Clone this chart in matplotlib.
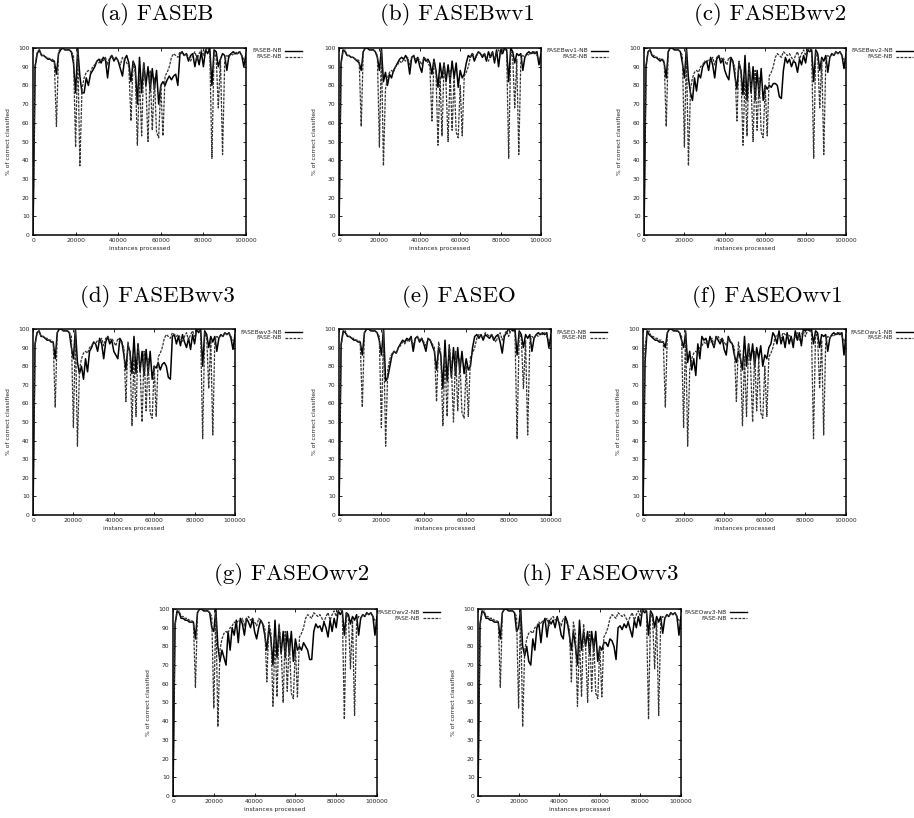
import matplotlib
matplotlib.use("Agg")
import matplotlib.pyplot as plt
from matplotlib.lines import Line2D

# positions sampled every 1000 instances
x = list(range(0, 100001, 1000))

# baseline FASE-NB (dashed, same in every panel)
fase_nb = [0, 91, 98, 99, 96, 96, 95, 95, 94, 94,
           93, 58, 98, 100, 100, 99, 99, 99, 98, 96,
           47, 99, 37, 78, 84, 87, 88, 87, 90, 91,
           93, 92, 94, 93, 95, 91, 95, 96, 94, 95,
           93, 91, 95, 94, 92, 90, 61, 93, 87, 48,
           85, 53, 92, 80, 50, 88, 56, 84, 55, 52,
           80, 53, 85, 87, 90, 95, 97, 96, 95, 98,
           97, 96, 97, 95, 93, 96, 98, 94, 97, 99,
           96, 99, 100, 98, 41, 98, 95, 68, 94, 43,
           93, 96, 95, 97, 96, 98, 97, 98, 96, 94,
           92]

faseb = [0, 90, 97, 99, 96, 96, 95, 94, 94, 93,
         93, 86, 97, 99, 100, 99, 99, 99, 98, 92,
         76, 100, 85, 76, 76, 84, 80, 86, 88, 90,
         93, 94, 92, 95, 94, 84, 94, 96, 93, 95,
         93, 89, 85, 94, 96, 92, 82, 93, 90, 70,
         95, 76, 92, 80, 90, 77, 89, 78, 88, 70,
         80, 82, 80, 83, 85, 83, 85, 86, 80, 97,
         98, 96, 97, 93, 96, 97, 90, 96, 91, 98,
         90, 99, 97, 100, 80, 99, 98, 90, 94, 97,
         96, 88, 96, 97, 98, 97, 97, 98, 96, 90,
         97]

fasebwv1 = [0, 92, 99, 98, 96, 96, 95, 95, 94, 93,
            92, 88, 98, 100, 100, 99, 99, 99, 98, 95,
            88, 100, 82, 87, 80, 86, 84, 88, 90, 92,
            94, 95, 94, 96, 94, 86, 95, 96, 92, 95,
            90, 87, 95, 93, 94, 92, 86, 94, 88, 79,
            92, 84, 92, 82, 91, 82, 93, 84, 92, 79,
            88, 84, 86, 92, 96, 95, 97, 93, 96, 98,
            97, 95, 97, 93, 98, 95, 98, 92, 99, 90,
            99, 97, 100, 99, 82, 100, 98, 92, 97, 96,
            97, 88, 95, 97, 98, 97, 98, 97, 98, 91,
            97]

fasebwv2 = [0, 90, 98, 99, 96, 95, 95, 94, 93, 94,
            92, 84, 98, 100, 100, 99, 99, 99, 98, 92,
            84, 100, 84, 76, 72, 84, 77, 86, 84, 90,
            92, 93, 88, 95, 91, 84, 94, 96, 92, 94,
            88, 85, 83, 95, 93, 85, 78, 92, 88, 75,
            96, 72, 92, 76, 90, 72, 88, 74, 89, 72,
            80, 78, 80, 79, 81, 81, 80, 74, 73, 88,
            95, 92, 94, 90, 93, 92, 87, 94, 91, 96,
            92, 99, 98, 99, 82, 99, 97, 88, 95, 93,
            96, 87, 95, 97, 96, 98, 97, 98, 96, 89,
            97]

fasebwv3 = [0, 92, 98, 99, 96, 96, 95, 94, 94, 93,
            93, 84, 98, 100, 100, 99, 99, 99, 98, 90,
            84, 100, 82, 76, 80, 73, 84, 77, 88, 90,
            93, 92, 88, 95, 92, 84, 93, 96, 92, 94,
            88, 86, 84, 95, 93, 86, 78, 91, 88, 76,
            96, 76, 92, 77, 88, 75, 89, 76, 88, 73,
            80, 79, 82, 78, 81, 82, 80, 74, 73, 96,
            97, 92, 96, 91, 97, 93, 90, 95, 89, 97,
            92, 100, 98, 100, 80, 99, 97, 90, 96, 93,
            96, 88, 95, 97, 96, 98, 97, 98, 95, 89,
            97]

faseo = [0, 92, 99, 98, 96, 96, 95, 94, 94, 93,
         93, 86, 98, 100, 100, 99, 99, 99, 98, 94,
         86, 100, 72, 74, 80, 86, 88, 87, 90, 92,
         94, 93, 95, 94, 96, 88, 95, 96, 93, 95,
         92, 88, 95, 94, 91, 88, 78, 90, 86, 68,
         94, 72, 90, 74, 90, 75, 90, 77, 88, 76,
         84, 78, 80, 90, 96, 97, 95, 97, 94, 97,
         96, 95, 97, 94, 96, 97, 93, 87, 96, 98,
         100, 100, 99, 100, 86, 99, 97, 90, 97, 95,
         97, 88, 95, 97, 98, 97, 98, 97, 98, 90,
         97]

faseowv1 = [0, 82, 99, 97, 96, 95, 94, 94, 93, 93,
            93, 90, 98, 100, 100, 99, 99, 99, 98, 94,
            90, 98, 82, 88, 78, 84, 75, 92, 84, 96,
            94, 95, 90, 96, 93, 90, 96, 94, 92, 95,
            89, 86, 96, 93, 92, 86, 82, 88, 84, 78,
            96, 80, 92, 83, 92, 80, 90, 84, 91, 80,
            86, 84, 90, 92, 98, 96, 92, 99, 92, 96,
            90, 98, 92, 96, 90, 99, 94, 98, 91, 100,
            99, 100, 99, 100, 92, 99, 98, 90, 97, 96,
            97, 88, 95, 97, 98, 97, 98, 97, 98, 86,
            97]

faseowv2 = [0, 92, 99, 98, 95, 95, 94, 94, 93, 93,
            93, 84, 98, 100, 100, 99, 99, 99, 98, 90,
            88, 100, 80, 72, 78, 74, 70, 88, 78, 90,
            86, 94, 82, 95, 92, 86, 95, 93, 90, 95,
            88, 84, 90, 94, 92, 86, 78, 90, 84, 70,
            94, 74, 90, 76, 88, 74, 88, 76, 88, 72,
            84, 78, 80, 78, 82, 80, 78, 73, 73, 88,
            92, 90, 91, 88, 93, 90, 85, 94, 88, 95,
            90, 99, 97, 99, 86, 98, 97, 92, 96, 94,
            97, 86, 95, 97, 96, 98, 97, 98, 96, 86,
            96]

faseowv3 = [0, 92, 99, 98, 95, 95, 94, 94, 93, 93,
            93, 84, 98, 100, 100, 99, 99, 99, 98, 88,
            90, 100, 80, 75, 80, 72, 70, 84, 78, 90,
            92, 82, 92, 95, 85, 94, 92, 94, 90, 96,
            92, 86, 84, 96, 93, 86, 78, 88, 80, 70,
            94, 78, 88, 80, 88, 76, 88, 78, 88, 72,
            80, 78, 82, 82, 80, 84, 83, 80, 73, 90,
            91, 89, 92, 90, 93, 89, 85, 94, 90, 96,
            91, 100, 98, 99, 86, 99, 97, 90, 96, 93,
            96, 87, 95, 97, 96, 98, 97, 98, 96, 86,
            96]

titles = ["(a) FASEB", "(b) FASEBwv1", "(c) FASEBwv2", "(d) FASEBwv3",
          "(e) FASEO", "(f) FASEOwv1", "(g) FASEOwv2", "(h) FASEOwv3"]
names = ["FASEB-NB", "FASEBwv1-NB", "FASEBwv2-NB", "FASEBwv3-NB",
         "FASEO-NB", "FASEOwv1-NB", "FASEOwv2-NB", "FASEOwv3-NB"]
series = [faseb, fasebwv1, fasebwv2, fasebwv3, faseo, faseowv1, faseowv2, faseowv3]

# layout in pixels: axes box (left, top, right, bottom), legend line end x, title centre (x, y)
W, H = 914, 818
boxes = [(33, 48, 246, 235), (339, 48, 541, 235), (644, 48, 846, 235),
         (33, 329, 235, 515), (339, 329, 551, 515), (643, 329, 846, 515),
         (173, 609, 377, 796), (478, 609, 681, 796)]
legend_end = [302, 608, 913, 302, 607, 913, 440, 747]
title_pos = [(157, 15), (457, 15), (770, 15), (157, 297), (459, 297), (767, 297),
             (292, 575), (600, 575)]

small = 4.3
txt_col = "#222222"

fig = plt.figure(figsize=(W / 100, H / 100), dpi=100)

for i in range(8):
    l, t, r, b = boxes[i]
    ax = fig.add_axes([l / W, 1 - b / H, (r - l) / W, (b - t) / H])
    ax.plot(x, series[i], color="black", lw=1.1)
    ax.plot(x, fase_nb, color="#333333", lw=0.9, linestyle=(0, (2.2, 1.0)))
    ax.set_xlim(0, 100000)
    ax.set_ylim(0, 100)
    ax.set_xticks(range(0, 100001, 20000))
    ax.set_yticks(range(0, 101, 10))
    ax.tick_params(direction="in", length=2.2, width=0.6, labelsize=small,
                   labelcolor=txt_col, top=True, right=True, pad=2.5)
    for s in ax.spines.values():
        s.set_linewidth(1.1)
    ax.set_xlabel("instances processed", fontsize=small, color=txt_col, labelpad=2)
    ax.set_ylabel("% of correct classified", fontsize=small, color=txt_col, labelpad=5)

    # gnuplot-style key: right aligned text, sample line to the right
    x1 = legend_end[i]
    x0 = x1 - 17
    for k, (lab, ls, col) in enumerate([(names[i], "-", "black"),
                                        ("FASE-NB", (0, (2.2, 1.0)), "#333333")]):
        yy = 1 - (t + 3 + 6 * k) / H
        fig.text((x0 - 3) / W, yy, lab, ha="right", va="center",
                 fontsize=small, color=txt_col)
        fig.add_artist(Line2D([x0 / W, x1 / W], [yy, yy], color=col,
                              lw=1.0 if k == 0 else 0.9, linestyle=ls))

    tx, ty = title_pos[i]
    fig.text(tx / W, 1 - ty / H, titles[i], ha="center", va="center",
             fontsize=16.5, family="cmr10")

fig.savefig("out.png", dpi=100)
